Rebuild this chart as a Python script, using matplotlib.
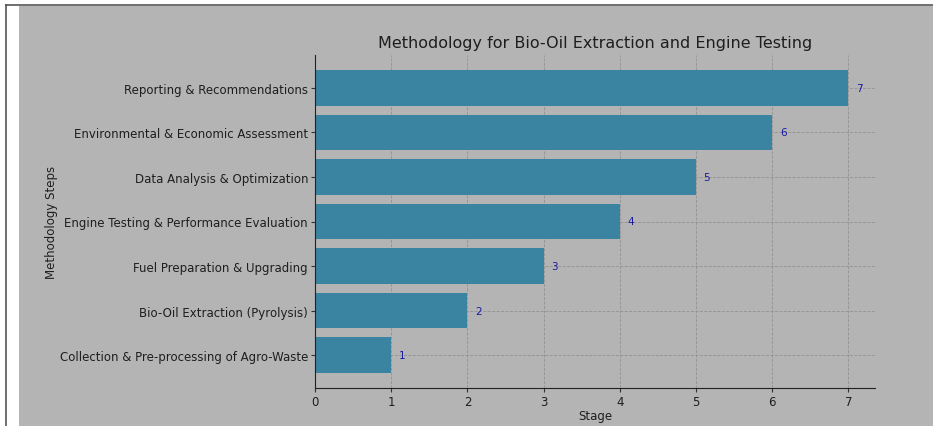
import matplotlib
matplotlib.use("Agg")
import matplotlib.pyplot as plt
from matplotlib.patches import Rectangle
from matplotlib.lines import Line2D

steps = [
    "Collection & Pre-processing of Agro-Waste",
    "Bio-Oil Extraction (Pyrolysis)",
    "Fuel Preparation & Upgrading",
    "Engine Testing & Performance Evaluation",
    "Data Analysis & Optimization",
    "Environmental & Economic Assessment",
    "Reporting & Recommendations",
]
stages = [1, 2, 3, 4, 5, 6, 7]

BG = "#b4b4b4"
BAR = "#3a84a2"
TXT = "#1e1e1e"

fig = plt.figure(figsize=(9.33, 4.27), dpi=100, facecolor="white")
fig.patches.append(Rectangle((19/933, 0), 1 - 19/933, 1 - 7/427, transform=fig.transFigure,
                             facecolor=BG, edgecolor="none", zorder=-10))
fig.lines.append(Line2D([5.5/933, 5.5/933], [0, 1 - 6/427], transform=fig.transFigure, color="#555555", lw=1.2, zorder=-9))
fig.lines.append(Line2D([5.5/933, 1], [1 - 6/427, 1 - 6/427], transform=fig.transFigure, color="#555555", lw=1.2, zorder=-9))

ax = fig.add_axes([315/933, 38/427, 560/933, 333/427])
ax.set_facecolor(BG)
ax.barh(steps, stages, height=0.8, color=BAR, zorder=2)
for i, v in enumerate(stages):
    ax.text(v + 0.1, i, str(v), color="#1a1aa0", va="center", ha="left", fontsize=7.5, zorder=3)

ax.set_xlim(0, 7.35)
ax.grid(True, color="#8a8a8a", linestyle="--", linewidth=0.6, alpha=0.8, zorder=0)
ax.set_axisbelow(True)
for s in ["top", "right"]:
    ax.spines[s].set_visible(False)
for s in ["left", "bottom"]:
    ax.spines[s].set_color("#222222")
ax.tick_params(colors="#333333", labelsize=8.5, labelcolor=TXT, length=3, pad=2)
ax.set_title("Methodology for Bio-Oil Extraction and Engine Testing", fontsize=11.5, color=TXT)
ax.set_xlabel("Stage", fontsize=8.5, color=TXT, labelpad=1)
ax.set_ylabel("Methodology Steps", fontsize=8.5, color=TXT, labelpad=1)

fig.savefig("out.png", dpi=100, facecolor=fig.get_facecolor())
